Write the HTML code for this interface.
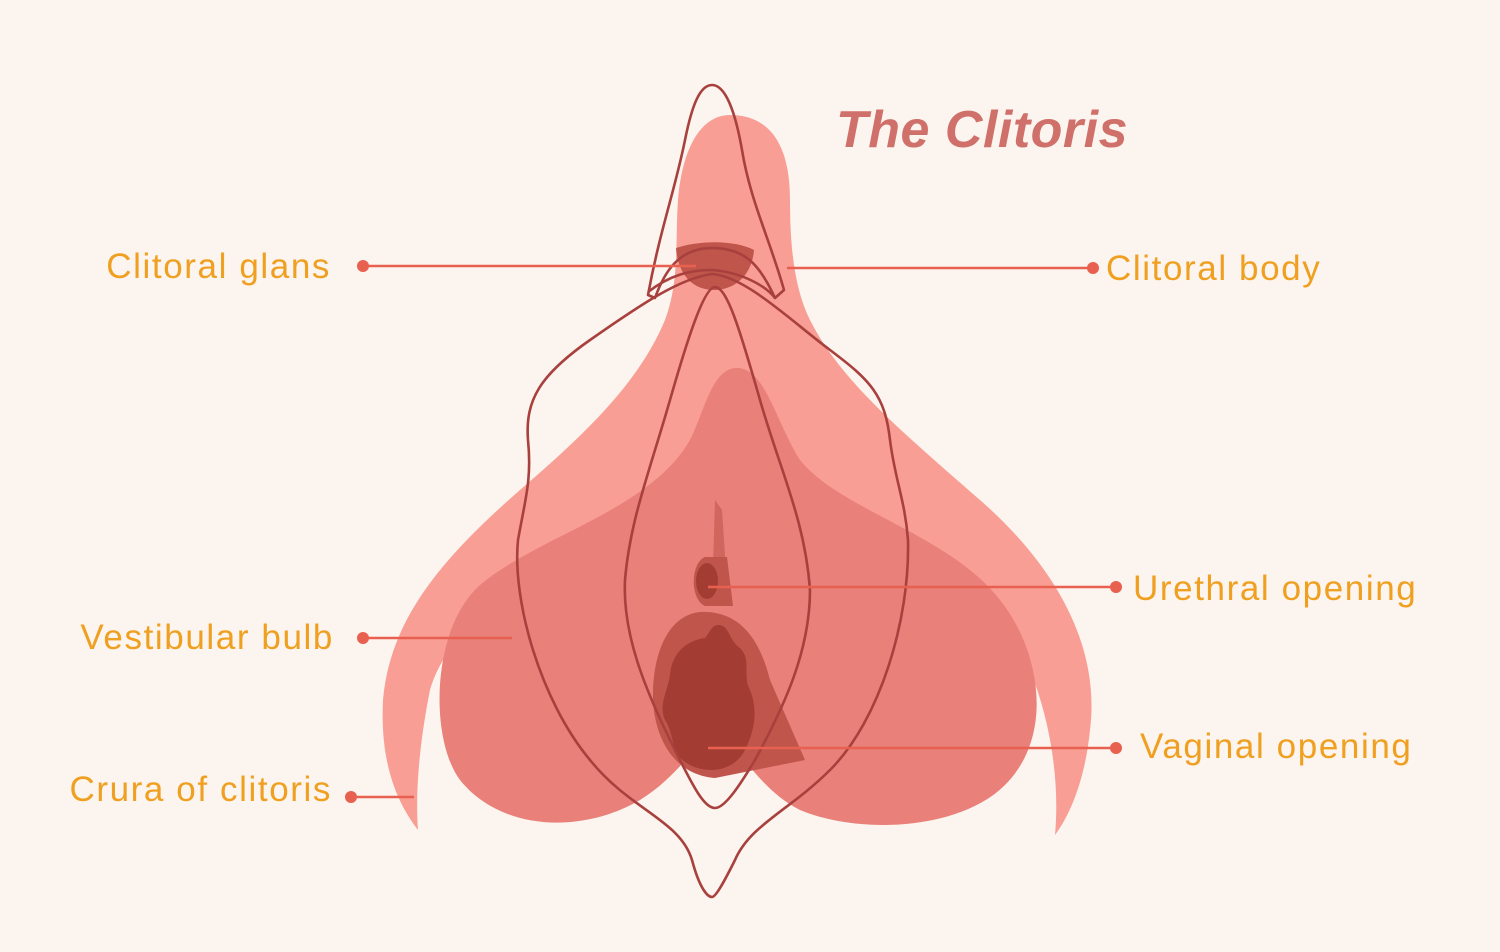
<!DOCTYPE html>
<html><head><meta charset="utf-8"><style>
html,body{margin:0;padding:0;background:#fcf4ee;}
svg{display:block}
text{font-family:"Liberation Sans",sans-serif;}
</style></head><body>
<svg width="1500" height="952" viewBox="0 0 1500 952" xmlns="http://www.w3.org/2000/svg">
<rect width="1500" height="952" fill="#fcf4ee"/>
<path fill="#f89e94" d="M730,115 C770,115 790,145 790,200 C790,250 795,290 810,320 C840,380 900,430 980,500 C1060,570 1100,650 1090,730 C1085,780 1070,815 1055,835 C1060,780 1050,720 1030,670 C1000,600 900,560 800,560 L720,560 L640,560 C540,560 450,620 430,690 C420,740 415,790 418,830 C395,800 380,760 383,700 C390,620 440,560 520,490 C590,430 640,380 665,320 C680,280 675,240 678,200 C682,150 700,115 730,115Z"/>
<path fill="#e9807a" d="M737,368 C712,368 705,410 690,440 C650,510 540,535 480,585 C430,630 430,740 460,780 C500,830 580,835 640,800 C680,775 700,740 715,720 C735,745 760,790 800,810 C860,835 960,830 1005,785 C1055,735 1040,650 1000,600 C950,535 840,510 800,460 C775,420 765,368 737,368Z"/>
<path fill="#c0554c" d="M700,612 C740,610 760,640 770,680 L805,760 L715,778 C675,775 655,740 653,700 C652,650 670,615 700,612Z"/>
<path fill="#a33d33" d="M718,625 C730,625 728,640 740,648 C752,660 742,675 750,690 C758,710 755,730 745,750 C735,770 710,775 690,765 C670,755 675,735 665,720 C658,705 668,690 670,675 C672,650 690,640 705,638 C710,632 712,625 718,625Z"/>
<path fill="#d0665e" d="M715,500 L722,510 L728,600 L712,600 Z"/>
<path fill="#c0554c" d="M705,557 L727,557 L733,606 L705,606 C690,600 690,563 705,557Z"/>
<ellipse cx="707" cy="581" rx="11" ry="18" fill="#a33d33"/>
<path fill="#c0554c" d="M676,248 C700,240 735,240 754,250 C752,275 735,290 714,290 C693,290 678,275 676,248Z"/>
<g fill="none" stroke="#a8403d" stroke-width="2.6" stroke-linejoin="round">
<path d="M712,85 C725,85 735,110 742,150 C750,200 770,240 784,290 L775,298 C760,265 745,248 712,248 C680,248 665,270 655,298 L648,295 C660,230 675,190 685,140 C692,105 700,85 712,85Z"/>
<path d="M648,292 C670,275 690,270 712,270 C740,272 765,285 775,298"/>
<path d="M712,274 C680,278 640,305 590,340 C540,375 525,400 528,440 C532,480 525,500 518,540 C512,600 540,700 590,760 C630,810 680,820 692,860 C700,890 708,897 712,897 C716,897 725,880 735,860 C750,825 790,810 830,770 C880,720 910,620 908,540 C905,500 895,480 890,440 C885,395 870,380 830,350 C790,320 745,276 712,274Z"/>
<path d="M715,287 C705,287 690,330 670,400 C650,470 630,520 625,580 C622,640 650,700 680,760 C695,790 705,808 715,808 C725,808 740,785 755,760 C785,705 810,650 810,590 C805,520 780,470 760,400 C740,330 727,287 715,287Z"/>
</g>
<g stroke="#e8604f" stroke-width="2.5" fill="#e8604f">
<line x1="363" y1="266" x2="696" y2="266"/><circle cx="363" cy="266" r="6" stroke="none"/>
<line x1="787" y1="268" x2="1093" y2="268"/><circle cx="1093" cy="268" r="6" stroke="none"/>
<line x1="708" y1="587" x2="1116" y2="587"/><circle cx="1116" cy="587" r="6" stroke="none"/>
<line x1="363" y1="638" x2="512" y2="638"/><circle cx="363" cy="638" r="6" stroke="none"/>
<line x1="708" y1="748" x2="1116" y2="748"/><circle cx="1116" cy="748" r="6" stroke="none"/>
<line x1="351" y1="797" x2="414" y2="797"/><circle cx="351" cy="797" r="6" stroke="none"/>
</g>
<g fill="#f0a020" font-size="35" letter-spacing="1.6">
<text x="331" y="278" text-anchor="end">Clitoral glans</text>
<text x="1106" y="280">Clitoral body</text>
<text x="1133" y="600">Urethral opening</text>
<text x="334" y="649" text-anchor="end">Vestibular bulb</text>
<text x="1140" y="758">Vaginal opening</text>
<text x="332" y="801" text-anchor="end">Crura of clitoris</text>
</g>
<text x="836" y="147" font-size="52" font-style="italic" font-weight="bold" fill="#d0706a" letter-spacing="0.5">The Clitoris</text>
</svg>
</body></html>
